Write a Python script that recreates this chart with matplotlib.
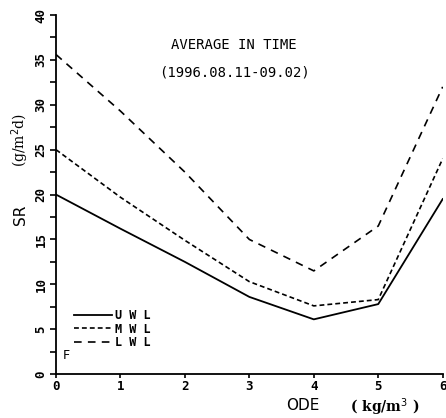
import matplotlib
matplotlib.use("Agg")
import matplotlib.pyplot as plt
from matplotlib.ticker import MultipleLocator

plt.rcParams['lines.scale_dashes'] = False

ode = [0, 1, 2, 3, 4, 5, 6]
uwl = [20.0, 16.2, 12.5, 8.6, 6.1, 7.8, 19.5]
mwl = [25.0, 19.7, 14.9, 10.3, 7.6, 8.3, 24.0]
lwl = [35.6, 29.3, 22.5, 15.0, 11.5, 16.5, 32.0]
labels = ["U W L", "M W L", "L W L"]

fig = plt.figure(figsize=(4.46, 4.18), dpi=100)
ax = fig.add_axes([0.1256, 0.105, 0.867, 0.859])

ax.plot(ode, uwl, color='black', lw=1.3, label=labels[0])
ax.plot(ode, mwl, color='black', lw=1.2, dashes=(3.5, 2.2), label=labels[1])
ax.plot(ode, lwl, color='black', lw=1.2, dashes=(5.5, 4.5), label=labels[2])

ax.set_xlim(0, 6)
ax.set_ylim(0, 40)
ax.spines['top'].set_visible(False)
ax.spines['right'].set_visible(False)
ax.xaxis.set_major_locator(MultipleLocator(1))
ax.yaxis.set_major_locator(MultipleLocator(5))
ax.yaxis.set_minor_locator(MultipleLocator(2.5))
ax.tick_params(axis='y', which='both', direction='out', length=4, width=1.2, pad=2)
ax.tick_params(axis='x', direction='out', length=3, width=1.2, pad=1)
for t in ax.get_yticklabels():
    t.set_rotation(90)
    t.set_va('center')
    t.set_fontfamily('DejaVu Sans Mono')
    t.set_fontsize(9)
    t.set_fontweight('bold')
for t in ax.get_xticklabels():
    t.set_fontfamily('DejaVu Sans Mono')
    t.set_fontsize(9)
    t.set_fontweight('bold')
for s in ax.spines.values():
    s.set_linewidth(1.3)

mono = dict(family='DejaVu Sans Mono', fontsize=10, ha='center', va='center',
            transform=fig.transFigure)
fig.text(234 / 446, 1 - 45 / 418, "AVERAGE IN TIME", **mono)
fig.text(235 / 446, 1 - 73 / 418, "(1996.08.11-09.02)", **mono)

fig.text(20 / 446, 1 - 215 / 418, "SR", rotation=90, fontsize=11,
         ha='center', va='center')
fig.text(20 / 446, 1 - 140 / 418, "(g/m$^2$d)", rotation=90, fontsize=10,
         family='DejaVu Serif', ha='center', va='center')
fig.text(303 / 446, 1 - 406 / 418, "ODE", fontsize=11, ha='center', va='center')
fig.text(385 / 446, 1 - 407 / 418, "( kg/m$^3$ )", fontsize=10, family='DejaVu Serif',
         fontweight='bold', ha='center', va='center')

ax.text(0.1, 1.3, "F", fontsize=9, ha='left', va='bottom')

leg = ax.legend(loc='lower left', bbox_to_anchor=(0.02, 0.04), frameon=False,
                handlelength=3.2, handletextpad=0.2, labelspacing=0.05,
                prop={'family': 'DejaVu Sans Mono', 'size': 8.5, 'weight': 'bold'})

fig.savefig("out.png", dpi=100)
